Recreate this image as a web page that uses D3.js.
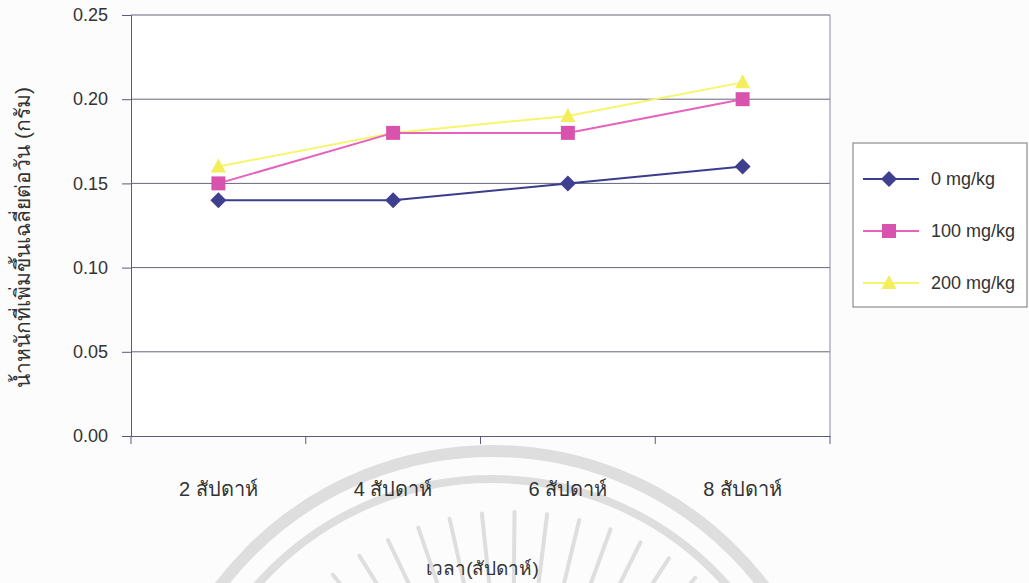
<!DOCTYPE html>
<html>
<head>
<meta charset="utf-8">
<script src="https://cdn.jsdelivr.net/npm/d3@7"></script>
<style>
  html, body { margin: 0; padding: 0; background: #fcfcfc; }
  svg { display: block; font-family: "Liberation Sans", Arial, sans-serif; }
</style>
</head>
<body>
<svg id="chart" width="1029" height="583"></svg>
<script>
// Average daily weight gain by week and dose
const weeks = ["2 สัปดาห์", "4 สัปดาห์", "6 สัปดาห์", "8 สัปดาห์"];
const seriesNames = ["0 mg/kg", "100 mg/kg", "200 mg/kg"];
const dose0 = [0.14, 0.14, 0.15, 0.16];
const dose100 = [0.15, 0.18, 0.18, 0.20];
const dose200 = [0.16, 0.18, 0.19, 0.21];
const yTicks = [0, 0.05, 0.10, 0.15, 0.20, 0.25];
const yTitle = "น้ำหนักที่เพิ่มขึ้นเฉลี่ยต่อวัน (กรัม)";
const xTitle = "เวลา(สัปดาห์)";

// Marker outlines, centred on the point
const diamond = "M0,-8L8,0L0,8L-8,0Z";
const square = "M-7,-7H7V7H-7Z";
const triangle = "M0,-8L7.5,6H-7.5Z";

const series = [
  { name: seriesNames[0], values: dose0, line: "#3c3c8c", fill: "#3f3f8f", shape: diamond },
  { name: seriesNames[1], values: dose100, line: "#e562be", fill: "#d853ad", shape: square },
  { name: seriesNames[2], values: dose200, line: "#f7f56a", fill: "#f2ee5c", shape: triangle }
];

const svg = d3.select("#chart");
const plot = { left: 131, right: 830, top: 15, bottom: 436 };

// Faint circular seal in the background
const seal = svg.append("g").attr("fill", "none").attr("stroke", "#dedede");
const sc = { x: 492, y: 792 };
seal.append("circle").attr("cx", sc.x).attr("cy", sc.y).attr("r", 341).attr("stroke-width", 12);
seal.append("circle").attr("cx", sc.x).attr("cy", sc.y).attr("r", 313).attr("stroke-width", 8);
const rc = { x: 512, y: 800 };
d3.range(-148, -30, 6.5).forEach(a => {
  const r0 = 200, r1 = 288;
  const t = a * Math.PI / 180;
  seal.append("line")
    .attr("x1", rc.x + r0 * Math.cos(t)).attr("y1", rc.y + r0 * Math.sin(t))
    .attr("x2", rc.x + r1 * Math.cos(t)).attr("y2", rc.y + r1 * Math.sin(t))
    .attr("stroke-width", 4).attr("stroke-linecap", "round");
});

const x = d3.scaleBand().domain(weeks).range([plot.left, plot.right]);
const y = d3.scaleLinear().domain([0, 0.25]).range([plot.bottom, plot.top]);

// Plot background
svg.append("rect")
  .attr("x", plot.left).attr("y", plot.top)
  .attr("width", plot.right - plot.left).attr("height", plot.bottom - plot.top)
  .attr("fill", "#ffffff");

// Horizontal gridlines
svg.append("g").selectAll("line").data(yTicks.slice(1)).join("line")
  .attr("x1", plot.left).attr("x2", plot.right)
  .attr("y1", d => y(d)).attr("y2", d => y(d))
  .attr("stroke", "#66667a").attr("stroke-width", 1);

// Right border of plot area
svg.append("line")
  .attr("x1", plot.right).attr("x2", plot.right)
  .attr("y1", plot.top).attr("y2", plot.bottom)
  .attr("stroke", "#8a8aa0").attr("stroke-width", 1);

// Y axis
const yAxis = svg.append("g")
  .attr("transform", `translate(${plot.left},0)`)
  .call(d3.axisLeft(y).tickValues(yTicks).tickFormat(d3.format(".2f")).tickSize(9).tickPadding(14));
yAxis.selectAll("path, line").attr("stroke", "#5a5a80");
yAxis.selectAll("text").attr("font-size", 18).attr("fill", "#333").attr("font-family", "Liberation Sans, Arial, sans-serif");

// X axis with ticks between categories
const xAxis = svg.append("g")
  .attr("transform", `translate(0,${plot.bottom})`)
  .call(d3.axisBottom(x).tickSize(0).tickPadding(46));
xAxis.select("path").attr("stroke", "#5a5a80");
xAxis.selectAll("text").attr("font-size", 20).attr("fill", "#333");
const bounds = weeks.map(w => x(w)).concat([plot.right]);
xAxis.append("g").selectAll("line").data(bounds).join("line")
  .attr("x1", d => d).attr("x2", d => d).attr("y1", 0).attr("y2", 8)
  .attr("stroke", "#5a5a80");

// Axis titles
svg.append("text")
  .attr("x", (plot.left + plot.right) / 2 + 2).attr("y", 575)
  .attr("text-anchor", "middle").attr("font-size", 19).attr("fill", "#333")
  .text(xTitle);
svg.append("text")
  .attr("transform", `translate(30,${(plot.top + plot.bottom) / 2 + 12}) rotate(-90)`)
  .attr("text-anchor", "middle").attr("font-size", 21).attr("fill", "#333")
  .text(yTitle);

// Lines and markers
const cx = w => x(w) + x.bandwidth() / 2;
const lineGen = d3.line().x((d, i) => cx(weeks[i])).y(d => y(d));

series.slice().reverse().forEach(s => {
  const g = svg.append("g");
  g.append("path").datum(s.values)
    .attr("d", lineGen).attr("fill", "none")
    .attr("stroke", s.line).attr("stroke-width", 2);
  g.selectAll("path.m").data(s.values).join("path").attr("class", "m")
    .attr("transform", (d, i) => `translate(${cx(weeks[i])},${y(d)})`)
    .attr("d", s.shape)
    .attr("fill", s.fill);
});

// Legend
const legend = svg.append("g").attr("transform", "translate(853,143)");
legend.append("rect").attr("width", 174).attr("height", 164)
  .attr("fill", "#ffffff").attr("stroke", "#777").attr("stroke-width", 1);
series.forEach((s, i) => {
  const row = legend.append("g").attr("transform", `translate(0,${36 + i * 52})`);
  row.append("line").attr("x1", 10).attr("x2", 66).attr("stroke", s.line).attr("stroke-width", 2);
  row.append("path").attr("transform", "translate(36,0)").attr("d", s.shape).attr("fill", s.fill);
  row.append("text").attr("x", 78).attr("y", 6)
    .attr("font-size", 18).attr("fill", "#333").text(s.name);
});
</script>
</body>
</html>
